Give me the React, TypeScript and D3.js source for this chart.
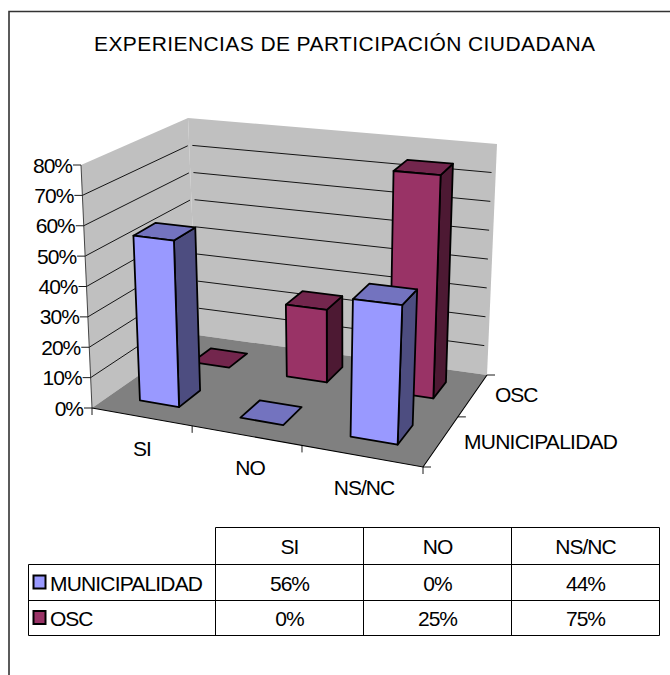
import React from "react";
import * as d3 from "d3";

const categories = ["SI", "NO", "NS/NC"];
const seriesNames = ["MUNICIPALIDAD", "OSC"];
const municipalidad = [56, 0, 44];
const osc = [0, 25, 75];
const yTicks = [0, 10, 20, 30, 40, 50, 60, 70, 80];
const title = "EXPERIENCIAS DE PARTICIPACIÓN CIUDADANA";

type P = [number, number];

function homography(q: P[]) {
  const [[x0, y0], [x1, y1], [x2, y2], [x3, y3]] = q;
  const dx1 = x1 - x2, dx2 = x3 - x2, sx = x0 - x1 + x2 - x3;
  const dy1 = y1 - y2, dy2 = y3 - y2, sy = y0 - y1 + y2 - y3;
  const det = dx1 * dy2 - dx2 * dy1;
  const g = (sx * dy2 - dx2 * sy) / det;
  const h = (dx1 * sy - sx * dy1) / det;
  const a = x1 - x0 + g * x1, b = x3 - x0 + h * x3, c = x0;
  const d = y1 - y0 + g * y1, e = y3 - y0 + h * y3, f = y0;
  return (u: number, v: number): P => {
    const w = g * u + h * v + 1;
    return [(a * u + b * v + c) / w, (d * u + e * v + f) / w];
  };
}

const floorH = homography([[92, 408], [423, 467], [487, 375], [197, 335]]);
const ceilH = homography([[81, 165], [435, 205], [497, 144], [188, 118]]);
const barCeilH = homography([[81, 171], [435, 205], [497, 144], [188, 118]]);
const yScale = d3.scaleLinear().domain([0, 80]).range([0, 1]);
const uScale = d3.scaleBand<string>().domain(categories).range([0, 1]).paddingInner(0.6).paddingOuter(0.3);
const vScale = d3.scaleBand<string>().domain(seriesNames).range([0, 1]).paddingInner(0.6).paddingOuter(0.3);

function proj(u: number, v: number, val: number): P {
  const t = yScale(val);
  const a = floorH(u, v), b = ceilH(u, v);
  return [a[0] + (b[0] - a[0]) * t, a[1] + (b[1] - a[1]) * t];
}
function barProj(u: number, v: number, val: number): P {
  const t = yScale(val);
  const a = floorH(u, v), bx = ceilH(u, v), by = barCeilH(u, v);
  return [a[0] + (bx[0] - a[0]) * t + (1 - u) * 1.5, a[1] + (by[1] - a[1]) * t];
}

const poly = (pts: P[]) => (d3.line()(pts) as string) + "Z";
const line = (pts: P[]) => d3.line()(pts) as string;

const FONT = "'Liberation Sans', Arial, sans-serif";
const colors = [
  { front: "#9999FF", top: "#7373BF", side: "#4D4D80" },
  { front: "#993366", top: "#73264D", side: "#4D1933" },
];

function Bar({ cat, ser, val, color }: { cat: string; ser: string; val: number; color: typeof colors[0] }) {
  const u0 = uScale(cat)!, u1 = u0 + uScale.bandwidth();
  const v0 = vScale(ser)!, v1 = v0 + vScale.bandwidth();
  const top: P[] = [barProj(u0, v0, val), barProj(u1, v0, val), barProj(u1, v1, val), barProj(u0, v1, val)];
  const sw = { stroke: "#000", strokeWidth: 1.8, strokeLinejoin: "round" as const };
  if (val === 0) return <path d={poly(top)} fill={color.top} {...sw} />;
  const front: P[] = [barProj(u0, v0, 0), barProj(u1, v0, 0), barProj(u1, v0, val), barProj(u0, v0, val)];
  const side: P[] = [barProj(u1, v0, 0), barProj(u1, v1, 0), barProj(u1, v1, val), barProj(u1, v0, val)];
  return (
    <g>
      <path d={poly(side)} fill={color.side} {...sw} />
      <path d={poly(top)} fill={color.top} {...sw} />
      <path d={poly(front)} fill={color.front} {...sw} />
    </g>
  );
}

function T({ x, y, w, anchor = "middle", children }: { x: number; y: number; w?: number; anchor?: string; children: string }) {
  return (
    <text
      x={x}
      y={y}
      fontFamily={FONT}
      fontSize={21}
      fill="#000"
      letterSpacing={w ? undefined : -1}
      textAnchor={anchor as any}
      dominantBaseline="central"
      textLength={w}
      lengthAdjust={w ? "spacing" : undefined}
    >
      {children}
    </text>
  );
}

export default function App() {
  const colX = [28.5, 215.5, 363.5, 511.5, 659.5];
  const rowY = [527.5, 564.5, 600.5, 635.5];
  const rowVals = [municipalidad, osc];
  return (
    <svg
      width={670}
      height={675}
      style={{ position: "absolute", left: 0, top: 0, background: "#fff" }}
    >
      <path d="M9,675V11.5H670" fill="none" stroke="#333" strokeWidth={1.6} />
      <T x={94} y={43} w={501} anchor="start">{title}</T>

      {/* walls and floor */}
      <path d={poly([proj(0, 0, 0), proj(0, 1, 0), proj(0, 1, 80), proj(0, 0, 80)])} fill="#C0C0C0" />
      <path d={poly([proj(0, 1, 0), proj(1, 1, 0), proj(1, 1, 80), proj(0, 1, 80)])} fill="#C0C0C0" />
      <path d={poly([proj(0, 0, 0), proj(1, 0, 0), proj(1, 1, 0), proj(0, 1, 0)])} fill="#808080" />

      {/* gridlines */}
      {yTicks.filter((t) => t > 0 && t < 80).map((t) => (
        <g key={t} fill="none" stroke="#000" strokeWidth={0.9}>
          <path d={line([proj(0, 0, t), proj(0, 0.985, t)])} />
          <path d={line([proj(0.012, 1, t), proj(0.988, 1, t)])} />
        </g>
      ))}

      {/* axes */}
      <g fill="none" stroke="#000" strokeWidth={0.9}>
        <path d={line([proj(0, 0, 0), proj(0, 0, 80)])} stroke="#333" />
        <path d={line([proj(0, 0, 0), proj(1, 0, 0), proj(1, 1, 0)])} strokeWidth={1.1} />
        {yTicks.map((t) => {
          const p = proj(0, 0, t);
          return <path key={t} d={line([[p[0] - 8, p[1]], p])} />;
        })}
        {[0, 1, 2, 3].map((i) => {
          const p = proj(i / 3, 0, 0);
          return <path key={i} d={line([p, [p[0], p[1] + 7]])} />;
        })}
        {[0, 1, 2].map((i) => {
          const p = proj(1, i / 2, 0);
          return <path key={i} d={line([p, [p[0] + 8, p[1]]])} />;
        })}
      </g>

      {/* bars, back row first */}
      {[1, 0].map((s) =>
        categories.map((c, i) => (
          <Bar key={s + c} cat={c} ser={seriesNames[s]} val={rowVals[s][i]} color={colors[s]} />
        ))
      )}

      {/* axis labels */}
      {yTicks.map((t) => {
        const p = proj(0, 0, t);
        return <T key={t} x={p[0] - 9} y={p[1]} anchor="end">{`${t}%`}</T>;
      })}
      <T x={142} y={448}>{categories[0]}</T>
      <T x={250} y={467}>{categories[1]}</T>
      <T x={364} y={487}>{categories[2]}</T>
      <T x={495} y={394} anchor="start">{seriesNames[1]}</T>
      <T x={464} y={441} anchor="start" w={154}>{seriesNames[0]}</T>

      {/* data table */}
      <g fill="none" stroke="#000" strokeWidth={1}>
        <path d={`M${colX[1]},${rowY[0]}H${colX[4]}V${rowY[3]}H${colX[0]}V${rowY[1]}H${colX[4]}`} />
        <path d={`M${colX[0]},${rowY[2]}H${colX[4]}`} />
        {[1, 2, 3].map((i) => (
          <path key={i} d={`M${colX[i]},${rowY[0]}V${rowY[3]}`} />
        ))}
      </g>
      {categories.map((c, i) => (
        <T key={c} x={(colX[i + 1] + colX[i + 2]) / 2} y={(rowY[0] + rowY[1]) / 2}>{c}</T>
      ))}
      {seriesNames.map((s, r) => (
        <g key={s}>
          <rect
            x={33.5}
            y={(rowY[r + 1] + rowY[r + 2]) / 2 - 7}
            width={12}
            height={13}
            fill={colors[r].front}
            stroke="#000"
            strokeWidth={2}
          />
          <T x={50} y={(rowY[r + 1] + rowY[r + 2]) / 2 + 0.5} anchor="start" w={r === 0 ? 153 : undefined}>{s}</T>
          {rowVals[r].map((v, i) => (
            <T key={i} x={(colX[i + 1] + colX[i + 2]) / 2} y={(rowY[r + 1] + rowY[r + 2]) / 2 + 0.5}>{`${v}%`}</T>
          ))}
        </g>
      ))}
    </svg>
  );
}
